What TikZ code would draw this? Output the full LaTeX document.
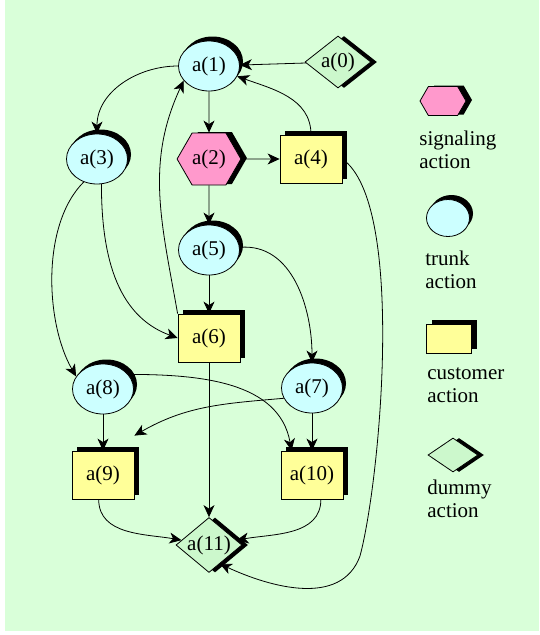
\documentclass[tikz,border=0pt]{standalone}
\usepackage{fontspec}
\setmainfont{Liberation Serif}
\usepackage{tikz}
\usetikzlibrary{positioning, arrows.meta, shapes.geometric, shapes.symbols, shadows}
\definecolor{cBg}{RGB}{217,255,217}
\definecolor{cTrunk}{RGB}{204,255,255}
\definecolor{cSig}{RGB}{255,153,204}
\definecolor{cCust}{RGB}{255,255,153}
\definecolor{cDummy}{RGB}{204,248,204}

\begin{document}
\begin{tikzpicture}[x=1pt, y=1pt, on grid, line width=0.8pt,
    font=\fontsize{21}{23}\selectfont,
    >={Stealth[length=12pt, width=11pt, inset=3.5pt]},
    blackshadow/.style 2 args={drop shadow={shadow xshift=#1, shadow yshift=#2, fill=black, opacity=1}},
    trunkact/.style={ellipse, draw, fill=cTrunk, minimum width=61pt, minimum height=50pt, inner sep=0pt, blackshadow={3.5pt}{4.5pt}},
    sigact/.style={signal, signal to=east and west, signal pointer angle=120, draw, fill=cSig, minimum width=60pt, minimum height=52pt, inner sep=0pt, blackshadow={6pt}{1pt}},
    custact/.style={rectangle, draw, fill=cCust, minimum width=62pt, minimum height=48pt, inner sep=0pt, blackshadow={5pt}{4.5pt}},
    dummyact/.style={diamond, aspect=1.5, draw, fill=cDummy, minimum width=66pt, minimum height=52pt, inner sep=-3pt, blackshadow={6pt}{0pt}},
    keytext/.style={anchor=west, align=left, inner sep=0pt}]
    \fill[cBg] (5,0) rectangle (539,-631);
    \useasboundingbox (0,0) rectangle (539,-635);

    \node[trunkact] (A1) at (209,-66) {a(1)};
    \node[dummyact] (A0) [above right=4pt and 129pt of A1] {a(0)};
    \node[sigact] (A2) [below=93pt of A1] {a(2)};
    \node[custact] (A4) [right=102pt of A2] {a(4)};
    \node[trunkact] (A3) [left=112pt of A2] {a(3)};
    \node[trunkact] (A5) [below=91pt of A2] {a(5)};
    \node[custact] (A6) [below=88pt of A5] {a(6)};
    \node[trunkact] (A7) [below right=50pt and 103pt of A6] {a(7)};
    \node[trunkact] (A8) [below left=51pt and 106pt of A6] {a(8)};
    \node[custact] (A9) [below=86pt of A8] {a(9)};
    \node[custact] (A10) [below=87pt of A7] {a(10)};
    \node[dummyact, minimum height=55pt] (A11) [below=207pt of A6] {a(11)};
    \coordinate[above=15pt of A9.north east] (E9);
    \coordinate (C) at (360,-556);

    % legend
    \node[sigact, minimum width=46pt, minimum height=29pt] (LS) at (443,-101) {};
    \node[keytext] (TS) at (419,-150) {signaling\\action};
    \node[trunkact, minimum width=43pt, minimum height=37pt] (LT) at (448,-218) {};
    \node[keytext] (TT) at (425,-270) {trunk\\action};
    \node[custact, minimum width=45pt, minimum height=29pt] (LC) at (449,-339) {};
    \node[keytext] (TC) at (427,-385) {customer\\action};
    \node[dummyact, minimum width=50pt, minimum height=34pt] (LD) at (453,-455) {};
    \node[keytext] (TD) at (427,-499) {dummy\\action};

    \path[->]
    (A0) edge (A1)
    (A1) edge (A2)
         edge [out=180, in=90] (A3)
    (A2) edge (A4)
         edge (A5)
    (A4) edge [out=90, in=-20] (A1)
    (A5) edge (A6)
         edge [out=5, in=90] (A7)
    (A6.north west) edge [out=100, in=-115] (A1.210)
    (A3.-80) edge [out=-90, in=160] (A6.west)
    (A3.240) edge [out=225, in=120, looseness=0.8] (A8.155)
    (A6) edge (A11)
    (A8) edge (A9)
    (A8.30) edge [out=0, in=100] (A10.130)
    (A7.200) edge [out=185, in=30] (E9)
    (A7) edge (A10)
    (A9.-100) edge [out=-90, in=170] (A11)
    (A10.-70) edge [out=-90, in=10] (A11);
    \draw[->] (A4.east) to[out=-35, in=75, looseness=0.5] (C) to[out=250, in=-25] (A11.-60);
\end{tikzpicture}
\end{document}
